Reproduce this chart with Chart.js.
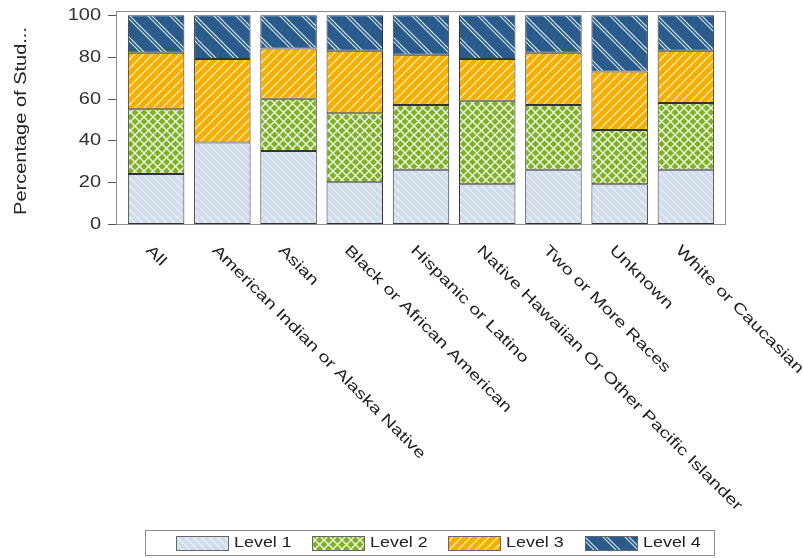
<!DOCTYPE html>
<html>
<head>
<meta charset="utf-8">
<script src="https://cdn.jsdelivr.net/npm/chart.js@4"></script>
<style>
  html, body { margin: 0; padding: 0; background: #fff; }
  canvas { display: block; }
</style>
</head>
<body>
<canvas id="chart" width="803" height="558"></canvas>
<script>
// data (percent of students per level)
const categories = ['All', 'American Indian or Alaska Native', 'Asian', 'Black or African American',
  'Hispanic or Latino', 'Native Hawaiian Or Other Pacific Islander', 'Two or More Races', 'Unknown',
  'White or Caucasian'];
const level1 = [24, 39, 35, 20, 26, 19, 26, 19, 26];
const level2 = [31, 0, 25, 33, 31, 40, 31, 26, 32];
const level3 = [27, 40, 24, 30, 24, 20, 25, 28, 25];
const level4 = [18, 21, 16, 17, 19, 21, 18, 27, 17];
const seriesNames = ['Level 1', 'Level 2', 'Level 3', 'Level 4'];
const yTickValues = [0, 20, 40, 60, 80, 100];
const yTitle = 'Percentage of Stud...';

const FONT = '"Liberation Sans", Arial, sans-serif';

// hatch fills
function makePattern(size, base, lineColor, lineWidth, dirs, offsets) {
  const c = document.createElement('canvas');
  c.width = size; c.height = size;
  const g = c.getContext('2d');
  g.fillStyle = base;
  g.fillRect(0, 0, size, size);
  g.strokeStyle = lineColor;
  g.lineWidth = lineWidth;
  dirs.forEach(d => {
    offsets.forEach(o => {
      for (let k = -size; k <= size; k += size) {
        g.beginPath();
        if (d === '\\') { g.moveTo(k + o, 0); g.lineTo(k + o + size, size); }
        else { g.moveTo(k + o, size); g.lineTo(k + o + size, 0); }
        g.stroke();
      }
    });
  });
  return g.createPattern(c, 'repeat');
}

const ctx0 = document.getElementById('chart').getContext('2d');
const fills = [
  makePattern(8, '#d3dcea', '#eaf0f8', 1.2, ['\\'], [0]),
  makePattern(9, '#7fb02a', '#eef6dc', 1.4, ['\\', '/'], [0]),
  makePattern(9, '#f4b000', '#fde6a8', 1.4, ['/'], [0]),
  makePattern(22, '#2a5b8b', '#d6e8f7', 1.1, ['\\'], [0, 4])
];

function stretchedText(ctx, text, x, y, angle, sx, align, baseline) {
  ctx.save();
  ctx.translate(x, y);
  ctx.rotate(angle);
  ctx.scale(sx, 1);
  ctx.textAlign = align;
  ctx.textBaseline = baseline;
  ctx.fillText(text, 0, 0);
  ctx.restore();
}

const decorations = {
  id: 'decorations',
  afterDraw(chart) {
    const ctx = chart.ctx;
    const xs = chart.scales.x, ys = chart.scales.y;
    ctx.save();

    // frame
    ctx.strokeStyle = '#8c8c8c';
    ctx.lineWidth = 1;
    ctx.strokeRect(116.5, 11.5, 609, 213);

    // y ticks + labels
    ctx.strokeStyle = '#555';
    ctx.fillStyle = '#333';
    ctx.font = '16px ' + FONT;
    yTickValues.forEach(v => {
      const y = Math.round(ys.getPixelForValue(v)) + 0.5;
      ctx.beginPath();
      ctx.moveTo(108, y);
      ctx.lineTo(116, y);
      ctx.stroke();
      stretchedText(ctx, String(v), 101, y, 0, 1.25, 'right', 'middle');
    });

    // y title
    ctx.fillStyle = '#222';
    ctx.font = '16px ' + FONT;
    stretchedText(ctx, yTitle, 22, 121, -Math.PI / 2, 1.25, 'center', 'middle');

    // x labels, slanted down to the right
    ctx.fillStyle = '#222';
    ctx.font = '15px ' + FONT;
    categories.forEach((c, i) => {
      const x = xs.getPixelForValue(i);
      stretchedText(ctx, c, x - 8, 248, Math.PI / 4, 1.33, 'left', 'middle');
    });

    // legend
    ctx.strokeStyle = '#8c8c8c';
    ctx.strokeRect(145.5, 530.5, 569, 25);
    ctx.font = '14px ' + FONT;
    ctx.fillStyle = '#222';
    const legendX = [176, 312, 448, 585];
    chart.data.datasets.forEach((ds, i) => {
      const lx = legendX[i];
      ctx.fillStyle = ds.backgroundColor;
      ctx.fillRect(lx, 536, 52, 14);
      ctx.strokeStyle = '#666';
      ctx.strokeRect(lx + 0.5, 536.5, 52, 14);
      ctx.fillStyle = '#222';
      stretchedText(ctx, ds.label, lx + 58, 543.5, 0, 1.28, 'left', 'middle');
    });

    ctx.restore();
  }
};

const allLevels = [level1, level2, level3, level4];

new Chart(ctx0, {
  type: 'bar',
  data: {
    labels: categories,
    datasets: allLevels.map((vals, i) => ({
      label: seriesNames[i],
      data: vals,
      backgroundColor: fills[i],
      borderColor: '#333',
      borderWidth: 1,
      borderSkipped: false,
      barPercentage: 0.853,
      categoryPercentage: 1
    }))
  },
  options: {
    responsive: false,
    animation: false,
    devicePixelRatio: 1,
    layout: { padding: { left: 0, right: 84, top: 11, bottom: 0 } },
    plugins: {
      legend: { display: false },
      tooltip: { enabled: false }
    },
    scales: {
      x: {
        stacked: true,
        grid: { display: false },
        border: { display: false },
        ticks: { display: false },
        afterFit(s) { s.height = 334; }
      },
      y: {
        stacked: true,
        min: 0,
        max: 102,
        grid: { display: false },
        border: { display: false },
        ticks: { display: false },
        afterBuildTicks(s) { s.ticks = yTickValues.map(v => ({ value: v })); },
        afterFit(s) { s.width = 123; }
      }
    }
  },
  plugins: [decorations]
});
</script>
</body>
</html>
